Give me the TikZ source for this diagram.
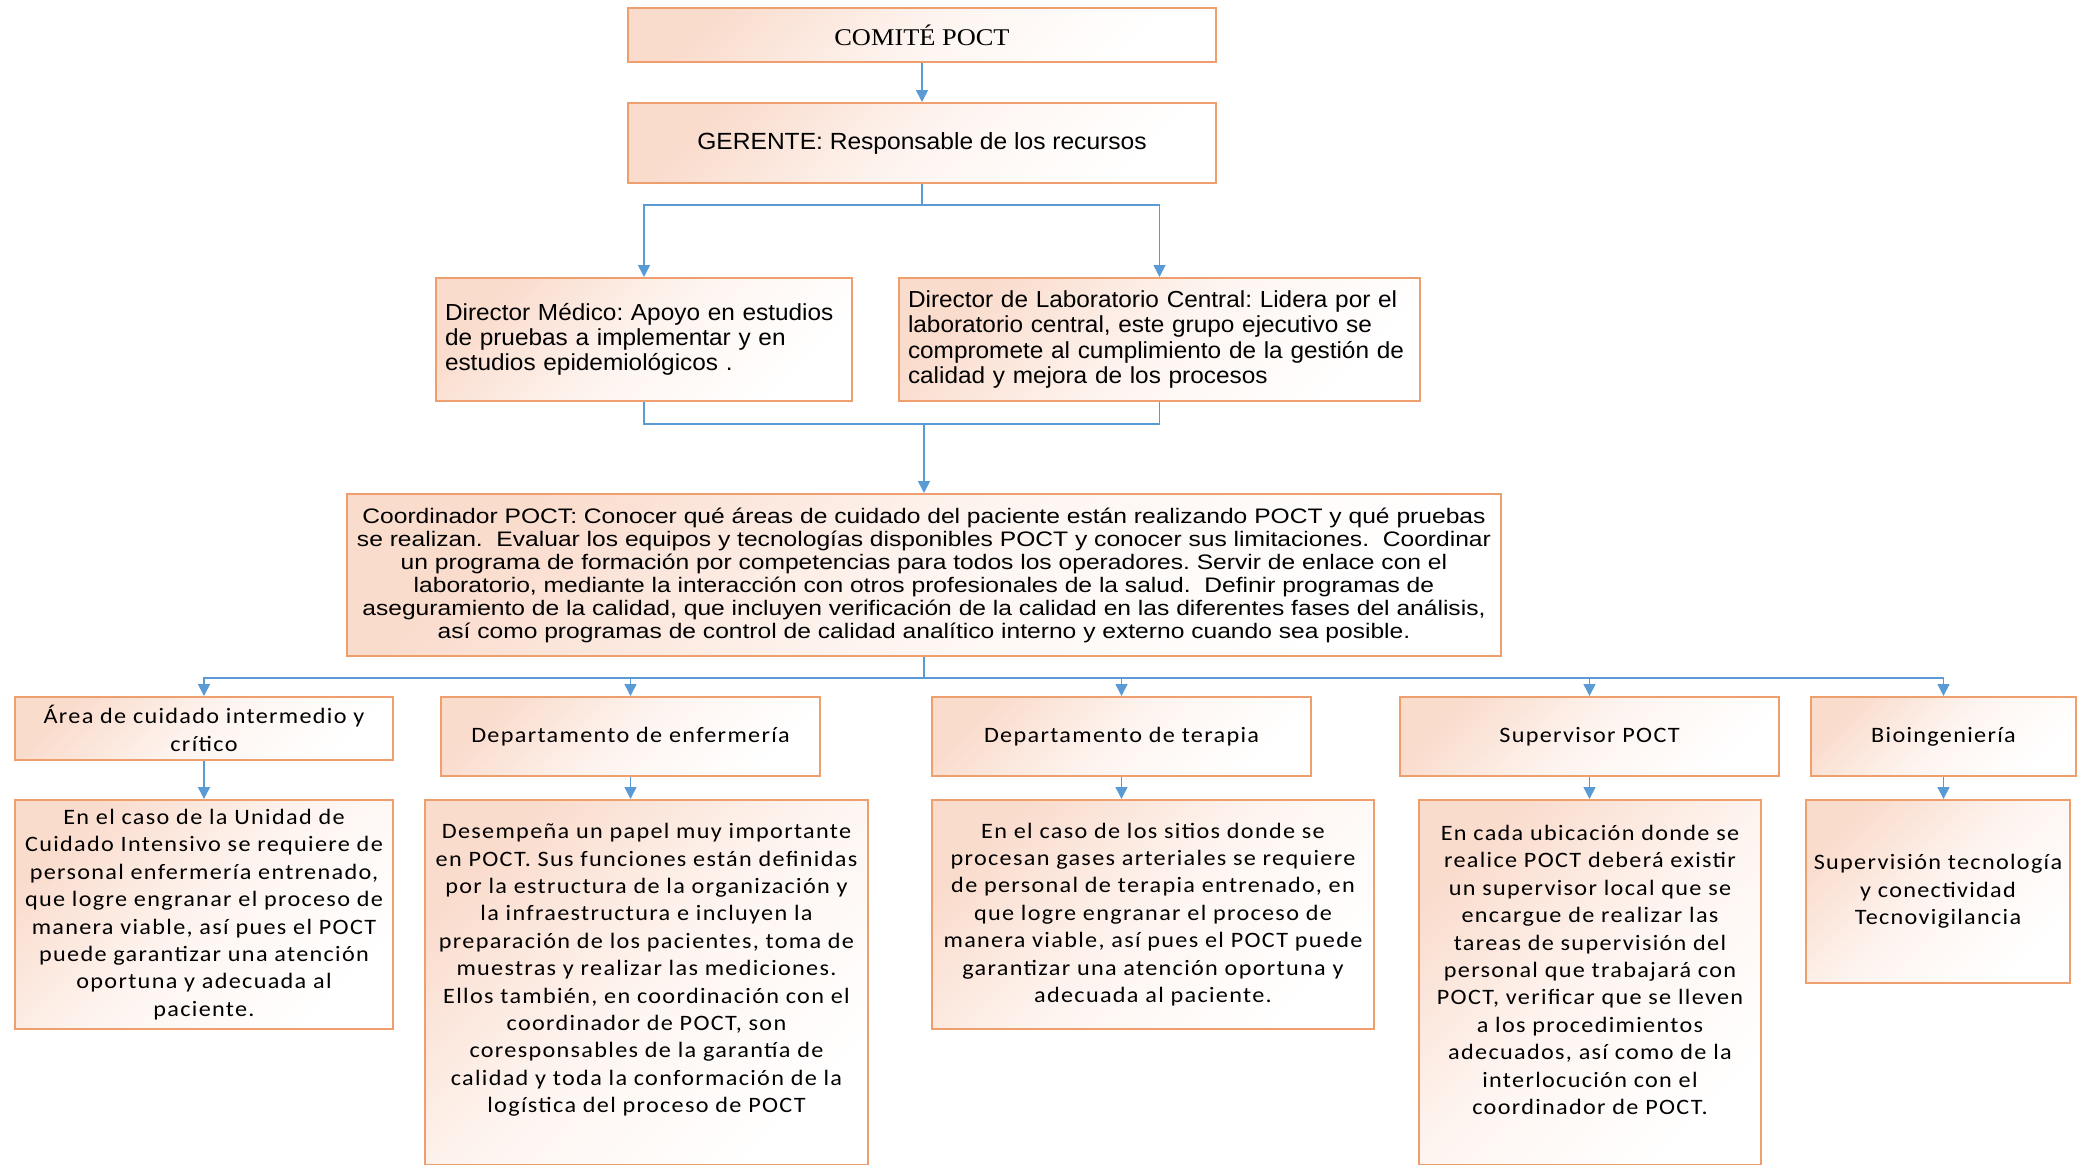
\documentclass[tikz,border=0pt]{standalone}
\usepackage{fontspec}
\usetikzlibrary{arrows.meta,calc}
\newfontfamily\serifA[FakeStretch=1.1]{Liberation Serif}
\newfontfamily\arialA[FakeStretch=1.05]{Liberation Sans}
\newfontfamily\arialB[FakeStretch=1.172]{Liberation Sans}
\newfontfamily\calib[FakeStretch=1.1,LetterSpace=6]{Carlito}
\definecolor{peach}{HTML}{FADCCD}
\definecolor{bord}{HTML}{EF9E6E}
\definecolor{conn}{HTML}{5B9BD5}
\begin{document}
\frenchspacing
\begin{tikzpicture}[x=0.5pt,y=-0.5pt,
  box/.style={draw=bord, line width=1pt, top color=peach, bottom color=white, middle color=peach!30, shading angle=45, inner sep=0pt, align=center},
  conn/.style={draw=conn, line width=0.8pt},
  arr/.style={conn, -{Triangle[width=6pt,length=6pt]}},
  ftop/.style={font=\serifA\fontsize{12}{14}\selectfont},
  fger/.style={font=\arialA\fontsize{11.7}{13}\selectfont},
  fdir/.style={font=\arialA\fontsize{11.6}{12.6}\selectfont},
  fcoord/.style={font=\arialB\fontsize{10.5}{11.5}\selectfont},
  fcal/.style={font=\calib\fontsize{11}{13.7}\selectfont},
  txt/.style={inner sep=0pt, align=center}]
\useasboundingbox (0,0) rectangle (2077,1164);
% top
\node[box, ftop, minimum width=294pt, minimum height=27pt] (comite) at (922,35) {COMITÉ POCT};
\node[box, fger, minimum width=294pt, minimum height=40pt] (gerente) at (922,143) {GERENTE: Responsable de los recursos};
\node[box, fdir, align=left, text width=199pt, inner xsep=4.5pt, minimum height=61.5pt] (dirmed) at (644,339.5) {Director Médico: Apoyo en estudios\\de pruebas a implementar y en\\estudios epidemiológicos .};
\node[box, fdir, align=left, text width=251.5pt, inner xsep=4.5pt, minimum height=61.5pt] (dirlab) at (1159.5,339.5) {Director de Laboratorio Central: Lidera por el\\laboratorio central, este grupo ejecutivo se\\compromete al cumplimiento de la gestión de\\calidad y mejora de los procesos};
\node[box, fcoord, minimum width=577pt, minimum height=81pt] (coord) at (924,575) {Coordinador POCT: Conocer qué áreas de cuidado del paciente están realizando POCT y qué pruebas\\se realizan.\ \ Evaluar los equipos y tecnologías disponibles POCT y conocer sus limitaciones.\ \ Coordinar\\un programa de formación por competencias para todos los operadores. Servir de enlace con el\\laboratorio, mediante la interacción con otros profesionales de la salud.\ \ Definir programas de\\aseguramiento de la calidad, que incluyen verificación de la calidad en las diferentes fases del análisis,\\así como programas de control de calidad analítico interno y externo cuando sea posible.};
% row 1
\node[box, fcal, minimum width=189pt, minimum height=31.5pt] (area) at (204,728.5) {Área de cuidado intermedio y\\crítico};
\node[box, fcal, minimum width=189.5pt, minimum height=39.5pt] (enf) at (630.5,736.5) {Departamento de enfermería};
\node[box, fcal, minimum width=189.5pt, minimum height=39.5pt] (ter) at (1121.5,736.5) {Departamento de terapia};
\node[box, fcal, minimum width=189.5pt, minimum height=39.5pt] (sup) at (1589.5,736.5) {Supervisor POCT};
\node[box, fcal, minimum width=132.5pt, minimum height=39.5pt] (bio) at (1943.5,736.5) {Bioingeniería};
% row 2
\node[box, fcal, minimum width=189pt, minimum height=114.5pt] (aread) at (204,914.5) {\rule{0pt}{4pt}En el caso de la Unidad de\\Cuidado Intensivo se requiere de\\personal enfermería entrenado,\\que logre engranar el proceso de\\manera viable, así pues el POCT\\puede garantizar una atención\\oportuna y adecuada al\\paciente.};
\node[box, minimum width=221.5pt, minimum height=182.5pt] (enfd) at (646.5,982.5) {};
\node[txt, fcal] (enfdt) at (646.5,970) {Desempeña un papel muy importante\\en POCT. Sus funciones están definidas\\por la estructura de la organización y\\la infraestructura e incluyen la\\preparación de los pacientes, toma de\\muestras y realizar las mediciones.\\Ellos también, en coordinación con el\\coordinador de POCT, son\\coresponsables de la garantía de\\calidad y toda la conformación de la\\logística del proceso de POCT};
\node[box, fcal, minimum width=221pt, minimum height=114.5pt] (terd) at (1153,914.5) {En el caso de los sitios donde se\\procesan gases arteriales se requiere\\de personal de terapia entrenado, en\\que logre engranar el proceso de\\manera viable, así pues el POCT puede\\garantizar una atención oportuna y\\adecuada al paciente.};
\node[box, minimum width=171pt, minimum height=182.5pt] (supd) at (1590,982.5) {};
\node[txt, fcal] (supdt) at (1590,970) {En cada ubicación donde se\\realice POCT deberá existir\\un supervisor local que se\\encargue de realizar las\\tareas de supervisión del\\personal que trabajará con\\POCT, verificar que se lleven\\a los procedimientos\\adecuados, así como de la\\interlocución con el\\coordinador de POCT.};
\node[box, fcal, minimum width=132pt, minimum height=91.5pt] (biod) at (1938,891.5) {Supervisión tecnología\\y conectividad\\Tecnovigilancia};
% connectors
\draw[arr] (comite) -- (gerente);
\coordinate (g1) at ($(gerente.south)+(0,21)$);
\draw[conn] (gerente.south) -- (g1);
\draw[arr] (g1) -| (dirmed.north);
\draw[arr] (g1) -| (dirlab.north);
\coordinate (d1) at ($(dirmed.south)+(0,22)$);
\draw[conn] (dirmed.south) -- (d1) -| (dirlab.south);
\draw[arr] (d1 -| coord.north) -- (coord.north);
\coordinate (c1) at ($(coord.south)+(0,21)$);
\draw[conn] (coord.south) -- (c1);
\draw[arr] (c1) -| (area.north);
\draw[arr] (c1) -| (enf.north);
\draw[arr] (c1) -| (ter.north);
\draw[arr] (c1) -| (sup.north);
\draw[arr] (c1) -| (bio.north);
\draw[arr] (area.south) -- (area.south |- aread.north);
\draw[arr] (enf.south) -- (enf.south |- enfd.north);
\draw[arr] (ter.south) -- (ter.south |- terd.north);
\draw[arr] (sup.south) -- (sup.south |- supd.north);
\draw[arr] (bio.south) -- (bio.south |- biod.north);
\end{tikzpicture}
\end{document}
